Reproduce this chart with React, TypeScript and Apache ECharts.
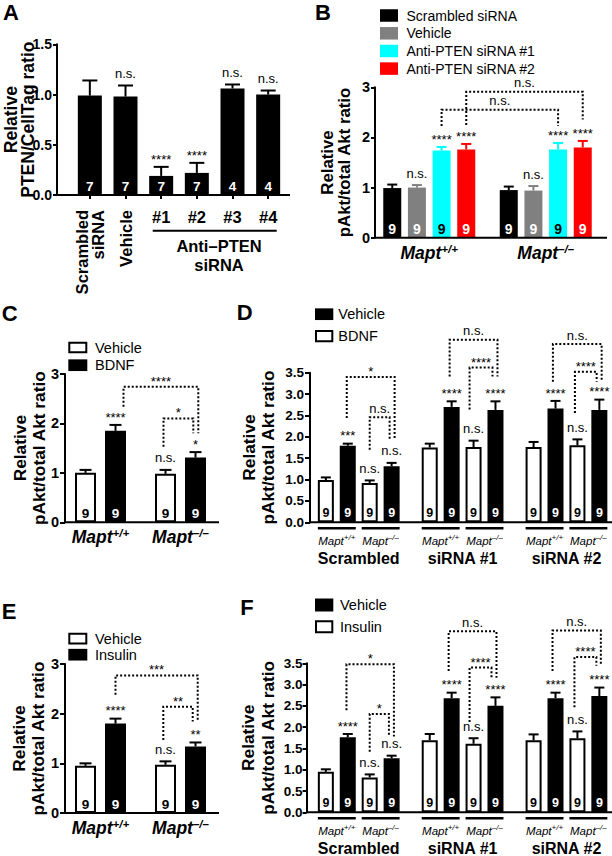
import React, { useEffect, useRef } from 'react';
import * as echarts from 'echarts';

const FONT = '"Liberation Sans", Arial, Helvetica, sans-serif';

// ---------------- Panel A ----------------
const aCategories = ['Scrambled\nsiRNA', 'Vehicle', '#1', '#2', '#3', '#4'];
const aMeans = [0.99, 0.98, 0.19, 0.22, 1.06, 1.0];
const aErrTops = [1.14, 1.09, 0.28, 0.32, 1.1, 1.04];
const aN = [7, 7, 7, 7, 4, 4];
const aSig = ['', 'n.s.', '****', '****', 'n.s.', 'n.s.'];
const aYTitle = 'Relative\nPTEN/CellTag ratio';
const aGroupTitle = 'Anti–PTEN\nsiRNA';

// ---------------- Panel B ----------------
const bGenotypes = ['+/+', '–/–'];
const bSeriesNames = ['Scrambled siRNA', 'Vehicle', 'Anti-PTEN siRNA #1', 'Anti-PTEN siRNA #2'];
const bScrambled = [0.99, 0.95];
const bScrambledTop = [1.06, 1.02];
const bVehicle = [1.0, 0.94];
const bVehicleTop = [1.05, 1.03];
const bPten1 = [1.74, 1.76];
const bPten1Top = [1.81, 1.89];
const bPten2 = [1.76, 1.8];
const bPten2Top = [1.87, 1.93];
const bSigScrambled = ['', ''];
const bSigVehicle = ['n.s.', 'n.s.'];
const bSigPten1 = ['****', '****'];
const bSigPten2 = ['****', '****'];
const bN = [9, 9];
const bBrackets = [
  { from: [0, 2], to: [1, 2], top: 2.55, fromEnd: 2.23, toEnd: 2.23, text: 'n.s.' },
  { from: [0, 3], to: [1, 3], top: 2.91, fromEnd: 2.25, toEnd: 2.36, text: 'n.s.' },
];
const bBracketNudge = [[0, 0], [0, 0]];

const pAktTitle = 'Relative\npAkt/total Akt ratio';

// ---------------- Panel C ----------------
const cGenotypes = ['+/+', '–/–'];
const cVehicle = [1.0, 0.98];
const cVehicleTop = [1.06, 1.06];
const cBdnf = [1.85, 1.31];
const cBdnfTop = [1.97, 1.42];
const cSigVehicle = ['', 'n.s.'];
const cSigBdnf = ['****', '*'];
const cN = [9, 9];
const cBrackets = [
  { from: [0, 1], to: [1, 1], top: 2.74, fromEnd: 2.34, toEnd: 1.8, text: '****' },
  { from: [1, 0], to: [1, 1], top: 2.1, fromEnd: 1.53, toEnd: 1.8, text: '*' },
];
const cBracketNudge = [[8, 2.8], [-2, -2.2]];

// ---------------- Panel D ----------------
const dGroups = ['Scrambled', 'siRNA #1', 'siRNA #2'];
const dSubGroups = ['+/+', '–/–'];
const dBdnfWT = [0.99, 1.75, 1.76];
const dBdnfWTTop = [1.05, 1.84, 1.88];
const dVehicleWT = [1.79, 2.7, 2.66];
const dVehicleWTTop = [1.84, 2.83, 2.84];
const dBdnfKO = [0.92, 1.76, 1.8];
const dBdnfKOTop = [0.98, 1.91, 1.94];
const dVehicleKO = [1.31, 2.63, 2.63];
const dVehicleKOTop = [1.39, 2.83, 2.87];
const dSigBdnfWT = ['', '', ''];
const dSigVehicleWT = ['***', '****', '****'];
const dSigBdnfKO = ['n.s.', 'n.s.', 'n.s.'];
const dSigVehicleKO = ['n.s.', '****', '****'];
const dN = [9, 9, 9];
const dBrackets = [
  { from: [0, 1], to: [0, 3], top: 3.4, fromEnd: 2.44, toEnd: 1.93, text: '*' },
  { from: [0, 2], to: [0, 3], top: 2.46, fromEnd: 1.7, toEnd: 1.93, text: 'n.s.' },
  { from: [1, 1], to: [1, 3], top: 4.27, fromEnd: 3.41, toEnd: 3.41, text: 'n.s.' },
  { from: [1, 2], to: [1, 3], top: 3.62, fromEnd: 2.64, toEnd: 3.41, text: '****' },
  { from: [2, 1], to: [2, 3], top: 4.17, fromEnd: 3.29, toEnd: 3.29, text: 'n.s.' },
  { from: [2, 2], to: [2, 3], top: 3.52, fromEnd: 2.56, toEnd: 3.29, text: '****' },
];
const dBracketNudge = [[-1, 3], [0, -2], [-2, 2], [-4, -3], [-2.6, 2.3], [-2.5, -2.7]];

// ---------------- Panel E ----------------
const eGenotypes = ['+/+', '–/–'];
const eVehicle = [0.95, 0.97];
const eVehicleTop = [1.0, 1.04];
const eInsulin = [1.8, 1.34];
const eInsulinTop = [1.9, 1.42];
const eSigVehicle = ['', 'n.s.'];
const eSigInsulin = ['****', '**'];
const eN = [9, 9];
const eBrackets = [
  { from: [0, 1], to: [1, 1], top: 2.77, fromEnd: 2.38, toEnd: 1.84, text: '***' },
  { from: [1, 0], to: [1, 1], top: 2.14, fromEnd: 1.47, toEnd: 1.84, text: '**' },
];
const eBracketNudge = [[0, 2.2], [-2.2, -2.8]];

// ---------------- Panel F ----------------
const fGroups = ['Scrambled', 'siRNA #1', 'siRNA #2'];
const fSubGroups = ['+/+', '–/–'];
const fInsulinWT = [0.95, 1.69, 1.69];
const fInsulinWTTop = [1.01, 1.84, 1.83];
const fVehicleWT = [1.76, 2.68, 2.68];
const fVehicleWTTop = [1.84, 2.81, 2.81];
const fInsulinKO = [0.82, 1.61, 1.74];
const fInsulinKOTop = [0.89, 1.74, 1.9];
const fVehicleKO = [1.27, 2.5, 2.73];
const fVehicleKOTop = [1.33, 2.7, 2.93];
const fSigInsulinWT = ['', '', ''];
const fSigVehicleWT = ['****', '****', '****'];
const fSigInsulinKO = ['n.s.', 'n.s.', 'n.s.'];
const fSigVehicleKO = ['n.s.', '****', '****'];
const fN = [9, 9, 9];
const fBrackets = [
  { from: [0, 1], to: [0, 3], top: 3.48, fromEnd: 2.4, toEnd: 1.78, text: '*' },
  { from: [0, 2], to: [0, 3], top: 2.31, fromEnd: 1.42, toEnd: 1.78, text: '*' },
  { from: [1, 1], to: [1, 3], top: 4.25, fromEnd: 3.32, toEnd: 3.16, text: 'n.s.' },
  { from: [1, 2], to: [1, 3], top: 3.4, fromEnd: 2.12, toEnd: 3.16, text: '****' },
  { from: [2, 1], to: [2, 3], top: 4.27, fromEnd: 3.32, toEnd: 3.44, text: 'n.s.' },
  { from: [2, 2], to: [2, 3], top: 3.65, fromEnd: 2.47, toEnd: 3.44, text: '****' },
];
const fBracketNudge = [[-1.3, 2.3], [0, -2.7], [-3, 1], [-4, -4], [-3, 1.5], [-3, -3]];

// ---------------- helpers ----------------
const BLACK = '#000000';
const WHITE = '#ffffff';
const NS_SIZE = 13;
const STAR_SIZE = 13;

function barSeries(xi: number, yi: number, data: number[], n: number[], opts: any) {
  return {
    type: 'bar',
    xAxisIndex: xi,
    yAxisIndex: yi,
    data,
    barWidth: opts.barWidth,
    barGap: opts.barGap,
    silent: true,
    z: 2,
    itemStyle: opts.white
      ? { color: WHITE, borderColor: BLACK, borderWidth: 2 }
      : { color: opts.color },
    label: {
      show: true,
      position: 'insideBottom',
      distance: opts.labelDist,
      formatter: (p: any) => String(n[p.dataIndex]),
      color: opts.labelColor,
      fontWeight: 'bold',
      fontSize: opts.labelSize,
      fontFamily: FONT,
    },
  };
}

function errorSeries(
  xi: number, yi: number, means: number[][], tops: number[][], sigs: string[][],
  colors: string[], pitch: number, capW: number,
) {
  const items: number[][] = [];
  const labels: string[] = [];
  const n = means.length;
  means.forEach((row, s) =>
    row.forEach((m, c) => {
      items.push([c, m, tops[s][c], s]);
      labels.push(sigs[s][c]);
    }),
  );
  return {
    type: 'custom',
    xAxisIndex: xi,
    yAxisIndex: yi,
    silent: true,
    clip: false,
    z: 3,
    data: items,
    renderItem: (params: any, api: any) => {
      const c = api.value(0);
      const m = api.value(1);
      const t = api.value(2);
      const s = api.value(3);
      const pm = api.coord([c, m]);
      const pt = api.coord([c, t]);
      const x = pm[0] + (s - (n - 1) / 2) * pitch;
      const col = colors[s];
      const children: any[] = [
        { type: 'line', shape: { x1: x, y1: pm[1], x2: x, y2: pt[1] }, style: { stroke: col, lineWidth: 2 } },
        { type: 'line', shape: { x1: x - capW / 2, y1: pt[1], x2: x + capW / 2, y2: pt[1] }, style: { stroke: col, lineWidth: 2 } },
      ];
      const lab = labels[params.dataIndex];
      if (lab) {
        const star = lab[0] === '*';
        children.push({
          type: 'text',
          x,
          y: pt[1] - (star ? 7.7 : 12),
          style: {
            text: lab, fill: BLACK, fontSize: star ? STAR_SIZE : NS_SIZE, fontFamily: FONT,
            align: 'center', verticalAlign: 'middle',
          },
        });
      }
      return { type: 'group', children };
    },
  };
}

function bracketSeries(xi: number, yi: number, brs: any[], nudges: number[][], nSlots: number, pitch: number) {
  return {
    type: 'custom',
    xAxisIndex: xi,
    yAxisIndex: yi,
    silent: true,
    clip: false,
    z: 4,
    data: brs.map((b) => [b.from[0], b.fromEnd]),
    renderItem: (params: any, api: any) => {
      const b = brs[params.dataIndex];
      const nd = nudges[params.dataIndex];
      const slotX = (cat: number, slot: number) => api.coord([cat, 0])[0] + (slot - (nSlots - 1) / 2) * pitch;
      const xl = slotX(b.from[0], b.from[1]) + nd[0];
      const xr = slotX(b.to[0], b.to[1]) + nd[1];
      const yT = api.coord([b.from[0], b.top])[1];
      const yL = api.coord([b.from[0], b.fromEnd])[1];
      const yR = api.coord([b.from[0], b.toEnd])[1];
      const star = b.text[0] === '*';
      return {
        type: 'group',
        children: [
          {
            type: 'polyline',
            shape: { points: [[xl, yL], [xl, yT], [xr, yT], [xr, yR]] },
            style: { stroke: BLACK, fill: 'none', lineWidth: 2, lineDash: [2, 2] },
          },
          {
            type: 'text',
            x: (xl + xr) / 2,
            y: yT - (star ? 5.5 : 9),
            style: {
              text: b.text, fill: BLACK, fontSize: star ? STAR_SIZE : NS_SIZE, fontFamily: FONT,
              align: 'center', verticalAlign: 'middle',
            },
          },
        ],
      };
    },
  };
}

function groupLabelSeries(xi: number, yi: number, groups: string[], subs: string[], nSlots: number, pitch: number, barW: number) {
  return {
    type: 'custom',
    xAxisIndex: xi,
    yAxisIndex: yi,
    silent: true,
    clip: false,
    z: 4,
    data: groups.map((_g, i) => [i, 0]),
    renderItem: (params: any, api: any) => {
      const i = params.dataIndex;
      const p = api.coord([i, 0]);
      const cx = p[0];
      const y0 = p[1];
      const sx = (k: number) => cx + (k - (nSlots - 1) / 2) * pitch;
      const children: any[] = [];
      for (let h = 0; h < 2; h++) {
        const a = sx(2 * h) - barW / 2;
        const b = sx(2 * h + 1) + barW / 2;
        children.push({ type: 'line', shape: { x1: a, y1: y0 + 6, x2: b, y2: y0 + 6 }, style: { stroke: BLACK, lineWidth: 2.5 } });
        children.push({
          type: 'text',
          x: (a + b) / 2,
          y: y0 + 18.5,
          style: {
            text: `{m|Mapt}{s|${subs[h]}}`,
            fill: BLACK,
            align: 'center',
            verticalAlign: 'middle',
            fontSize: 11,
            fontFamily: FONT,
            rich: {
              m: { fontSize: 11.5, fontStyle: 'italic', fontFamily: FONT, fill: BLACK, lineHeight: 14 },
              s: { fontSize: 8, fontStyle: 'italic', fontFamily: FONT, fill: BLACK, lineHeight: 9, verticalAlign: 'top' },
            },
          },
        });
      }
      children.push({
        type: 'text',
        x: cx,
        y: y0 + 36,
        style: {
          text: groups[i], fill: BLACK, fontSize: 16, fontWeight: 'bold', fontFamily: FONT,
          align: 'center', verticalAlign: 'middle',
        },
      });
      return { type: 'group', children };
    },
  };
}

function yAxis(gi: number, max: number, interval: number, dec: number, offset: number, name: string,
  nameGap: number, nameSize: number, lineHeight: number, labelSize: number, tickLen: number, margin: number) {
  return {
    type: 'value',
    gridIndex: gi,
    min: 0,
    max,
    interval,
    offset,
    name,
    nameLocation: 'middle',
    nameRotate: 90,
    nameGap,
    nameMoveOverlap: false,
    nameTextStyle: { fontFamily: FONT, fontWeight: 'bold', fontSize: nameSize, lineHeight, color: BLACK },
    axisLine: { show: true, lineStyle: { color: BLACK, width: 2 } },
    axisTick: { show: true, length: tickLen, lineStyle: { color: BLACK, width: 2 } },
    axisLabel: {
      color: BLACK, fontWeight: 'bold', fontSize: labelSize, fontFamily: FONT, margin,
      formatter: (v: number) => v.toFixed(dec),
    },
    splitLine: { show: false },
  };
}

function maptAxis(gi: number, data: string[]) {
  return {
    type: 'category',
    gridIndex: gi,
    data,
    axisLine: { show: false },
    axisTick: { show: false },
    axisLabel: {
      interval: 0,
      margin: 5,
      formatter: (v: string) => `{m|Mapt}{s|${v}}`,
      rich: {
        m: { fontSize: 17.5, fontWeight: 'bold', fontStyle: 'italic', fontFamily: FONT, color: BLACK, lineHeight: 20 },
        s: { fontSize: 11.5, fontWeight: 'bold', fontStyle: 'italic', fontFamily: FONT, color: BLACK, lineHeight: 13, verticalAlign: 'top' },
      },
    },
  };
}

function plainAxis(gi: number, data: string[]) {
  return {
    type: 'category', gridIndex: gi, data,
    axisLine: { show: false }, axisTick: { show: false }, axisLabel: { show: false },
  };
}

function hLine(x1: number, x2: number, y: number, w = 2) {
  return { type: 'line', z: 50, silent: true, shape: { x1, y1: y, x2, y2: y }, style: { stroke: BLACK, lineWidth: w } };
}

function txt(x: number, y: number, text: string, size: number, weight: string, align = 'left', extra: any = {}) {
  return {
    type: 'text', z: 50, silent: true, x, y,
    style: {
      text, fill: BLACK, fontSize: size, fontWeight: weight, fontFamily: FONT,
      align, verticalAlign: 'middle', textAlign: align, textVerticalAlign: 'middle', ...extra,
    },
  };
}

function legendRect(x: number, cy: number, w: number, h: number, fill: string, bordered: boolean) {
  if (bordered) {
    return {
      type: 'rect', z: 50, silent: true,
      shape: { x: x + 1, y: cy - h / 2 + 1, width: w - 2, height: h - 2 },
      style: { fill: WHITE, stroke: BLACK, lineWidth: 2 },
    };
  }
  return { type: 'rect', z: 50, silent: true, shape: { x, y: cy - h / 2, width: w, height: h }, style: { fill } };
}

function buildOption() {
  const bColors = [BLACK, '#808080', '#00FFFF', '#FF0000'];
  const bLabelColors = [WHITE, WHITE, BLACK, WHITE];
  const bMeansAll = [bScrambled, bVehicle, bPten1, bPten2];
  const bTopsAll = [bScrambledTop, bVehicleTop, bPten1Top, bPten2Top];
  const bSigsAll = [bSigScrambled, bSigVehicle, bSigPten1, bSigPten2];

  const bPitch = 18 * 1.37;
  const cPitch = 30;
  const dPitch = 16 * 1.37;

  const series: any[] = [];

  // A
  series.push(barSeries(0, 0, aMeans, aN, { barWidth: 24, barGap: '30%', color: BLACK, labelColor: WHITE, labelSize: 13.5, labelDist: 2 }));
  series.push(errorSeries(0, 0, [aMeans], [aErrTops], [aSig], [BLACK], 0, 15));

  // B
  bMeansAll.forEach((d, s) => {
    series.push(barSeries(2, 1, d, bN, {
      barWidth: 18, barGap: '37%', color: bColors[s], labelColor: bLabelColors[s], labelSize: 14, labelDist: 2,
    }));
  });
  series.push(errorSeries(2, 1, bMeansAll, bTopsAll, bSigsAll, bColors, bPitch, 10));
  series.push(bracketSeries(2, 1, bBrackets, bBracketNudge, 4, bPitch));

  // C
  series.push(barSeries(3, 2, cVehicle, cN, { barWidth: 21, barGap: '42.86%', white: true, labelColor: BLACK, labelSize: 13.5, labelDist: 2 }));
  series.push(barSeries(3, 2, cBdnf, cN, { barWidth: 21, barGap: '42.86%', color: BLACK, labelColor: WHITE, labelSize: 13.5, labelDist: 2 }));
  series.push(errorSeries(3, 2, [cVehicle, cBdnf], [cVehicleTop, cBdnfTop], [cSigVehicle, cSigBdnf], [BLACK, BLACK], cPitch, 12));
  series.push(bracketSeries(3, 2, cBrackets, cBracketNudge, 2, cPitch));

  // D
  const dMeansAll = [dBdnfWT, dVehicleWT, dBdnfKO, dVehicleKO];
  const dTopsAll = [dBdnfWTTop, dVehicleWTTop, dBdnfKOTop, dVehicleKOTop];
  const dSigsAll = [dSigBdnfWT, dSigVehicleWT, dSigBdnfKO, dSigVehicleKO];
  dMeansAll.forEach((d, s) => {
    const white = s % 2 === 0;
    series.push(barSeries(4, 3, d, dN, {
      barWidth: 16, barGap: '37%', white, color: BLACK, labelColor: white ? BLACK : WHITE, labelSize: 12.5, labelDist: 3,
    }));
  });
  series.push(errorSeries(4, 3, dMeansAll, dTopsAll, dSigsAll, [BLACK, BLACK, BLACK, BLACK], dPitch, 10));
  series.push(bracketSeries(4, 3, dBrackets, dBracketNudge, 4, dPitch));
  series.push(groupLabelSeries(4, 3, dGroups, dSubGroups, 4, dPitch, 16));

  // E
  series.push(barSeries(5, 4, eVehicle, eN, { barWidth: 21, barGap: '42.86%', white: true, labelColor: BLACK, labelSize: 13.5, labelDist: 2 }));
  series.push(barSeries(5, 4, eInsulin, eN, { barWidth: 21, barGap: '42.86%', color: BLACK, labelColor: WHITE, labelSize: 13.5, labelDist: 2 }));
  series.push(errorSeries(5, 4, [eVehicle, eInsulin], [eVehicleTop, eInsulinTop], [eSigVehicle, eSigInsulin], [BLACK, BLACK], cPitch, 12));
  series.push(bracketSeries(5, 4, eBrackets, eBracketNudge, 2, cPitch));

  // F
  const fMeansAll = [fInsulinWT, fVehicleWT, fInsulinKO, fVehicleKO];
  const fTopsAll = [fInsulinWTTop, fVehicleWTTop, fInsulinKOTop, fVehicleKOTop];
  const fSigsAll = [fSigInsulinWT, fSigVehicleWT, fSigInsulinKO, fSigVehicleKO];
  fMeansAll.forEach((d, s) => {
    const white = s % 2 === 0;
    series.push(barSeries(6, 5, d, fN, {
      barWidth: 16, barGap: '37%', white, color: BLACK, labelColor: white ? BLACK : WHITE, labelSize: 12.5, labelDist: 3,
    }));
  });
  series.push(errorSeries(6, 5, fMeansAll, fTopsAll, fSigsAll, [BLACK, BLACK, BLACK, BLACK], dPitch, 10));
  series.push(bracketSeries(6, 5, fBrackets, fBracketNudge, 4, dPitch));
  series.push(groupLabelSeries(6, 5, fGroups, fSubGroups, 4, dPitch, 16));

  const graphics: any[] = [
    // panel letters
    txt(3, 12, 'A', 22, 'bold'),
    txt(315, 12, 'B', 22, 'bold'),
    txt(1.7, 313.5, 'C', 22, 'bold'),
    txt(236.8, 312.8, 'D', 22, 'bold'),
    txt(1.8, 611, 'E', 22, 'bold'),
    txt(240.2, 607.8, 'F', 22, 'bold'),
    // x-axis lines
    hLine(56, 290, 195),
    hLine(374, 607, 237.7),
    hLine(64, 219, 522.3),
    hLine(309, 612, 522.3),
    hLine(64, 219, 813),
    hLine(306, 612, 812.3),
    // A group label
    hLine(152.7, 276.7, 230.7),
    txt(219, 255, aGroupTitle, 16.5, 'bold', 'center', { lineHeight: 19 }),
  ];

  // B legend
  const bLegendY = [15.5, 33.3, 51, 68.6];
  bSeriesNames.forEach((nm, i) => {
    graphics.push(legendRect(380, bLegendY[i], 18, 12.5, bColors[i], false));
    graphics.push(txt(406.5, bLegendY[i], nm, 14, 'normal'));
  });
  // C legend
  graphics.push(legendRect(68.3, 347.5, 19, 11.7, WHITE, true));
  graphics.push(txt(95, 347.5, 'Vehicle', 14.5, 'normal'));
  graphics.push(legendRect(68.3, 365.2, 19, 11.7, BLACK, false));
  graphics.push(txt(95, 365.2, 'BDNF', 14.5, 'normal'));
  // E legend
  graphics.push(legendRect(68.3, 638.7, 19, 11.7, WHITE, true));
  graphics.push(txt(95, 638.7, 'Vehicle', 14.5, 'normal'));
  graphics.push(legendRect(68.3, 654.7, 19, 11.7, BLACK, false));
  graphics.push(txt(95, 654.7, 'Insulin', 14.5, 'normal'));
  // D legend
  graphics.push(legendRect(315, 314.2, 18.3, 11.7, BLACK, false));
  graphics.push(txt(338.3, 314.2, 'Vehicle', 14.5, 'normal'));
  graphics.push(legendRect(315, 336.2, 18.3, 12.3, WHITE, true));
  graphics.push(txt(338.3, 336.2, 'BDNF', 14.5, 'normal'));
  // F legend
  graphics.push(legendRect(315, 605, 18.3, 13, BLACK, false));
  graphics.push(txt(340, 605, 'Vehicle', 14.5, 'normal'));
  graphics.push(legendRect(315, 626.7, 18.3, 13, WHITE, true));
  graphics.push(txt(340, 626.7, 'Insulin', 14.5, 'normal'));

  return {
    animation: false,
    backgroundColor: WHITE,
    textStyle: { fontFamily: FONT },
    grid: [
      { left: 72, top: 44.3, width: 214, height: 150.7, outerBoundsMode: 'none' },
      { left: 371, top: 87.3, width: 233, height: 150.4, outerBoundsMode: 'none' },
      { left: 60.5, top: 374, width: 160, height: 148.3, outerBoundsMode: 'none' },
      { left: 306.8, top: 372.7, width: 311.6, height: 149.6, outerBoundsMode: 'none' },
      { left: 60.5, top: 664, width: 160, height: 149, outerBoundsMode: 'none' },
      { left: 306.8, top: 663.3, width: 311.6, height: 149, outerBoundsMode: 'none' },
    ],
    xAxis: [
      {
        type: 'category', gridIndex: 0, data: aCategories, position: 'bottom',
        axisLine: { show: true, lineStyle: { color: BLACK, width: 2 } },
        axisTick: { show: true, alignWithLabel: true, length: 4, lineStyle: { color: BLACK, width: 2 } },
        axisLabel: {
          interval: 0, rotate: 90, margin: 15, color: BLACK, fontWeight: 'bold', fontSize: 16.5, lineHeight: 16.5, fontFamily: FONT,
          formatter: (v: string, i: number) => (i < 2 ? v : ''),
        },
      },
      {
        type: 'category', gridIndex: 0, data: aCategories, position: 'bottom',
        axisLine: { show: false }, axisTick: { show: false },
        axisLabel: {
          interval: 0, margin: 13, color: BLACK, fontWeight: 'bold', fontSize: 16.5, fontFamily: FONT,
          formatter: (v: string, i: number) => (i >= 2 ? v : ''),
        },
      },
      maptAxis(1, bGenotypes),
      maptAxis(2, cGenotypes),
      plainAxis(3, dGroups),
      maptAxis(4, eGenotypes),
      plainAxis(5, fGroups),
    ],
    yAxis: [
      yAxis(0, 1.5, 0.5, 1, 15, aYTitle, 21, 17.5, 17, 14, 4, 5),
      yAxis(1, 3, 1, 0, -4, pAktTitle, 21.5, 16.8, 17.5, 14.5, 4, 5),
      yAxis(2, 3, 1, 0, -4.5, pAktTitle, 17, 17.3, 19, 14.5, 5, 6),
      yAxis(3, 3.5, 0.5, 1, -3.2, pAktTitle, 32.5, 17.3, 19, 13.5, 5, 6),
      yAxis(4, 3, 1, 0, -4.5, pAktTitle, 17.5, 17.3, 19, 14.5, 5, 6),
      yAxis(5, 3.5, 0.5, 1, 0.2, pAktTitle, 28.2, 17.3, 20, 13.5, 4, 4),
    ],
    series,
    graphic: { elements: graphics },
  };
}

export default function App() {
  const ref = useRef<HTMLDivElement>(null);
  useEffect(() => {
    if (!ref.current) return;
    const chart = echarts.init(ref.current, undefined, { renderer: 'svg' });
    chart.setOption(buildOption() as any);
    return () => chart.dispose();
  }, []);
  return (
    <div
      ref={ref}
      style={{ position: 'absolute', left: 0, top: 0, width: 612, height: 856, background: '#fff' }}
    />
  );
}
